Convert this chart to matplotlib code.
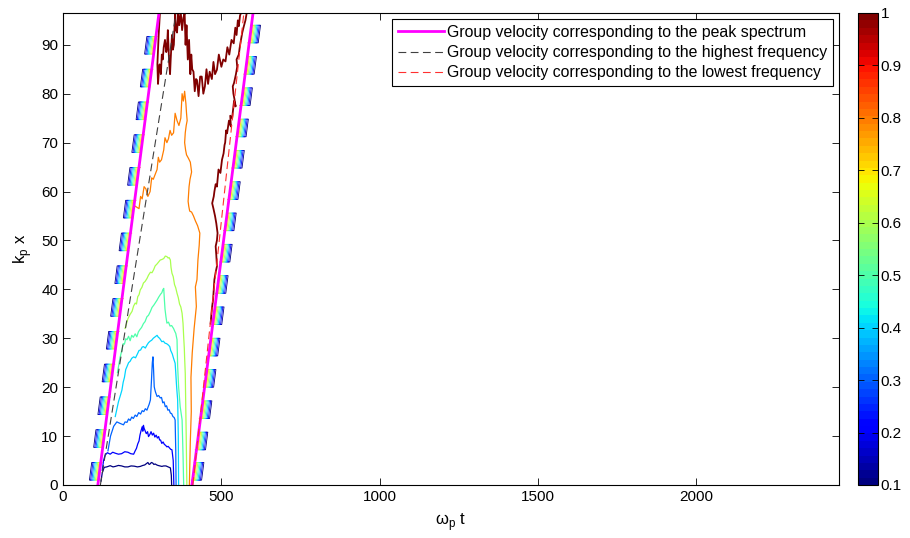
import numpy as np
import matplotlib
matplotlib.use("Agg")
import matplotlib.pyplot as plt
from matplotlib import colors, cm

plt.rcParams['font.family'] = ['Liberation Sans', 'DejaVu Sans']
plt.rcParams['font.size'] = 11

# contour levels and colour scale
levels = [0.1, 0.2, 0.3, 0.4, 0.5, 0.6, 0.7, 0.8, 0.9, 1.0]
cmap = plt.get_cmap('jet', 64)
norm = colors.Normalize(vmin=0.1, vmax=1.0)

# group velocity lines (omega_p t at k_p x = 0 and at the top of the axes)
line_k = [0.0, 96.5]
peak_left_t = [110, 303]
peak_right_t = [407, 600]
high_left_t = [118, 357]
low_right_t = [410, 571]

# iso-lines of the normalised envelope, (omega_p t, k_p x) pairs
c01_t = [120, 124, 130, 138, 149, 158, 165, 175, 185, 195, 205, 215, 225, 235, 244, 252, 258, 264, 268, 272, 275, 279, 283, 287, 291, 296, 300, 306, 312, 318, 325, 332, 339, 342, 343]
c01_k = [0.8, 2.5, 3.6, 3.7, 3.95, 3.7, 3.8, 4.0, 3.9, 3.7, 3.7, 3.9, 3.85, 3.7, 3.8, 4.0, 4.1, 4.4, 4.6, 4.2, 4.3, 4.6, 4.5, 4.2, 4.3, 4.1, 4.0, 3.9, 3.8, 3.9, 3.9, 3.7, 3.5, 2.0, 0.0]

c02_t = [124, 128, 133, 140, 149, 157, 165, 175, 185, 195, 205, 214, 223, 228, 232, 236, 240, 243, 246, 250, 252, 254, 256, 258, 261, 263, 267, 270, 274, 278, 282, 286, 290, 294, 298, 302, 305, 308, 312, 316, 320, 324, 328, 332, 336, 340, 344, 348, 350]
c02_k = [3.0, 5.0, 6.1, 6.6, 6.3, 6.7, 6.5, 6.3, 6.4, 6.8, 6.7, 6.4, 6.3, 7.0, 7.5, 8.4, 9.0, 10.2, 11.0, 11.9, 11.0, 12.2, 11.6, 11.3, 10.8, 10.5, 10.9, 9.9, 10.3, 10.9, 10.2, 10.6, 9.8, 10.2, 9.6, 9.9, 9.2, 9.2, 8.5, 8.8, 8.3, 8.1, 7.8, 7.9, 7.6, 7.3, 7.2, 5.0, 0.0]

c03_t = [142, 150, 160, 170, 180, 191, 196, 202, 207, 212, 217, 222, 228, 233, 239, 245, 250, 255, 260, 265, 269, 272, 276, 279, 282, 284, 286, 288, 290, 292, 297, 302, 307, 311, 315, 319, 323, 327, 331, 335, 339, 343, 347, 351, 354, 356, 357]
c03_k = [7.0, 10.0, 12.0, 12.9, 12.6, 12.3, 12.9, 12.8, 13.5, 13.2, 13.9, 13.6, 14.3, 14.0, 14.8, 14.5, 15.2, 15.0, 15.6, 15.3, 16.0, 16.5, 17.4, 21.0, 25.0, 26.2, 23.5, 20.1, 19.5, 19.0, 18.1, 18.3, 17.8, 17.9, 16.8, 17.0, 16.0, 16.2, 15.3, 15.4, 14.7, 14.6, 14.0, 13.8, 13.3, 7.0, 0.0]

c04_t = [165, 175, 182, 186, 190, 194, 198, 202, 207, 212, 217, 223, 229, 235, 240, 245, 250, 254, 260, 265, 270, 275, 280, 285, 291, 297, 301, 305, 309, 312, 317, 322, 327, 333, 337, 340, 345, 349, 354, 356, 358, 360, 362, 364, 365]
c04_k = [14.0, 17.0, 18.5, 19.4, 21.0, 22.0, 23.6, 24.2, 25.0, 25.3, 25.9, 26.2, 26.0, 26.8, 27.5, 27.6, 28.2, 28.3, 28.0, 28.6, 29.1, 29.4, 29.6, 30.0, 30.3, 30.6, 30.2, 30.0, 29.6, 29.3, 29.4, 29.0, 28.9, 28.6, 28.3, 27.5, 26.8, 25.9, 24.9, 23.0, 20.8, 19.0, 17.4, 10.0, 0.0]

c05_t = [172, 180, 186, 190, 194, 198, 202, 207, 212, 217, 222, 228, 233, 238, 243, 248, 254, 259, 265, 270, 276, 281, 287, 292, 297, 302, 308, 312, 315, 318, 320, 322, 325, 328, 333, 338, 343, 349, 353, 356, 360, 361, 362, 365, 370, 376, 379, 381]
c05_k = [23.0, 26.0, 27.6, 28.9, 28.8, 29.9, 29.7, 30.4, 29.5, 30.6, 30.2, 30.9, 30.3, 31.3, 31.8, 32.2, 33.0, 33.4, 34.4, 34.7, 35.5, 36.3, 36.8, 37.3, 37.8, 38.4, 39.0, 39.3, 39.9, 40.2, 38.0, 36.0, 34.4, 33.1, 33.3, 32.5, 32.6, 32.0, 31.4, 31.0, 29.7, 27.0, 24.2, 20.1, 16.0, 13.3, 6.0, 0.0]

c06_t = [196, 205, 212, 218, 223, 228, 232, 236, 240, 244, 249, 254, 259, 265, 270, 276, 281, 286, 291, 297, 302, 307, 312, 318, 323, 328, 332, 335, 339, 341, 344, 348, 352, 356, 360, 364, 368, 372, 376, 379, 381, 383, 384, 386, 389, 391]
c06_k = [32.0, 34.0, 34.9, 35.5, 36.6, 37.2, 37.0, 38.5, 38.9, 39.9, 40.4, 41.3, 41.6, 42.2, 42.9, 43.5, 43.4, 44.0, 44.8, 45.2, 45.6, 46.0, 46.1, 46.3, 46.8, 46.7, 46.4, 46.5, 46.0, 44.5, 43.3, 42.6, 41.0, 40.3, 39.2, 38.3, 37.0, 36.4, 35.1, 33.0, 30.3, 28.0, 26.0, 22.8, 10.0, 0.0]

c08_t = [228, 240, 245, 250, 256, 262, 268, 275, 280, 285, 291, 297, 301, 305, 311, 318, 322, 328, 333, 338, 343, 349, 354, 360, 366, 372, 376, 380, 384, 388, 390, 392, 389, 386, 384, 387, 390, 396, 402, 406, 401, 398, 395, 397, 400, 406, 412, 418, 425, 432, 430, 426, 423, 418, 421, 414, 408, 404, 405, 402, 400, 399]
c08_k = [57.0, 56.5, 59.0, 58.5, 61.0, 60.5, 59.0, 60.0, 62.8, 62.5, 63.5, 64.5, 67.0, 66.0, 66.5, 68.5, 71.0, 70.0, 70.8, 72.5, 71.5, 72.0, 76.0, 74.5, 73.5, 75.0, 80.0, 78.5, 80.5, 78.0, 76.0, 74.5, 73.5, 72.0, 70.0, 68.5, 67.5, 66.8, 66.0, 64.0, 62.5, 61.0, 58.0, 57.0, 56.0, 55.8, 55.0, 54.0, 53.0, 51.5, 49.0, 46.0, 42.0, 40.5, 36.5, 32.0, 27.0, 22.0, 15.0, 9.0, 3.0, 0.0]

c10a_t = [306, 302, 298, 300, 303, 305, 309, 312, 315, 318, 322, 326, 328, 331, 335, 338, 340, 344, 347, 350, 354, 357, 360, 364, 367, 372, 376, 380, 384, 387, 390, 394, 398, 402, 405, 408, 412, 416, 420, 423, 428, 433, 438, 443, 448, 453, 458, 463, 470, 475, 480, 486, 492, 500, 506, 513, 519, 525, 532, 539, 544, 548, 552, 555, 559, 562]
c10a_k = [96.5, 92.0, 86.0, 82.0, 85.0, 86.0, 84.0, 88.0, 87.0, 89.5, 91.0, 88.5, 89.0, 93.0, 86.5, 84.0, 87.0, 92.0, 89.0, 90.0, 96.5, 93.0, 92.5, 96.5, 94.0, 96.5, 93.0, 95.5, 96.5, 90.0, 94.0, 87.0, 91.0, 84.0, 88.0, 85.0, 84.5, 80.5, 83.0, 82.8, 79.5, 83.5, 83.5, 80.0, 81.5, 85.0, 82.0, 84.5, 83.0, 86.5, 84.0, 84.9, 88.0, 85.5, 87.0, 86.6, 89.5, 88.0, 91.0, 90.3, 93.5, 92.0, 95.0, 93.8, 96.0, 96.5]

c10b_t = [466, 470, 474, 478, 482, 486, 484, 482, 486, 488, 484, 480, 475, 471, 476, 478, 482, 486, 491, 497, 502, 507, 510, 512, 515, 518, 524, 530, 528, 534, 540, 545, 541, 538, 536, 540, 546, 550, 548, 555, 558, 560, 566, 571, 576, 580]
c10b_k = [33.0, 36.0, 38.0, 42.0, 43.5, 44.7, 47.0, 48.8, 50.0, 51.5, 53.5, 55.0, 56.5, 57.6, 59.0, 60.0, 61.5, 61.0, 64.5, 63.8, 66.5, 67.8, 69.5, 70.0, 72.5, 71.9, 74.5, 73.3, 75.5, 75.0, 78.5, 77.4, 79.0, 80.0, 81.5, 82.2, 84.0, 85.5, 87.0, 88.0, 89.5, 90.3, 92.5, 93.8, 95.0, 96.5]

iso_lines = [
    (0.1, c01_t, c01_k), (0.2, c02_t, c02_k), (0.3, c03_t, c03_k),
    (0.4, c04_t, c04_k), (0.5, c05_t, c05_k), (0.6, c06_t, c06_k),
    (0.8, c08_t, c08_k), (1.0, c10a_t, c10a_k), (1.0, c10b_t, c10b_k),
]

# saw-tooth steps where the packet edges cross the time grid
comb_k_left = [1.0, 7.7, 14.4, 21.1, 27.8, 34.5, 41.2, 47.9, 54.6, 61.3, 68.0, 74.7, 81.4, 88.1]
comb_k_right = [1.0, 7.2, 13.6, 20.0, 26.4, 32.8, 39.2, 45.6, 52.0, 58.4, 64.8, 71.2, 77.6, 84.0, 90.4]

fig = plt.figure(figsize=(9.1, 5.38), dpi=100)
ax = fig.add_axes([63 / 910, 53 / 538, 776 / 910, 472 / 538])
cax = fig.add_axes([858 / 910, 53 / 538, 20 / 910, 472 / 538])

for lv, t, k in iso_lines:
    ax.plot(t, k, color=cmap(norm(lv)), lw=1.3 if lv == 1.0 else 0.9)

# each step: one slanted stripe per level, lowest level outermost
comb_levels = levels[:8]
comb_h = 3.6
n_comb = len(comb_levels)
for k0 in comb_k_left:
    kb, kt = k0, k0 + comb_h
    tb = np.interp(kb, line_k, peak_left_t)
    tt = np.interp(kt, line_k, peak_left_t)
    for i, lv in enumerate(comb_levels):
        off = 2 + 3.8 * (n_comb - 1 - i)
        ax.plot([tb - off + 4, tb - off, tt - off, tt - off + 6],
                [kb, kb, kt, kt], color=cmap(norm(lv)), lw=0.6)

for k0 in comb_k_right:
    kb, kt = k0, k0 + comb_h
    tb = np.interp(kb, line_k, peak_right_t)
    tt = np.interp(kt, line_k, peak_right_t)
    for i, lv in enumerate(comb_levels):
        off = 2 + 3.8 * (n_comb - 1 - i)
        ax.plot([tb + off - 6, tb + off, tt + off, tt + off - 4],
                [kb, kb, kt, kt], color=cmap(norm(lv)), lw=0.6)

h1, = ax.plot(peak_left_t, line_k, color='#ff00ff', lw=2,
              label='Group velocity corresponding to the peak spectrum')
ax.plot(peak_right_t, line_k, color='#ff00ff', lw=2)
h2, = ax.plot(high_left_t, line_k, color='0.25', lw=0.8, dashes=(7, 4),
              label='Group velocity corresponding to the highest frequency')
h3, = ax.plot(low_right_t, line_k, color='#ff3030', lw=0.8, dashes=(7, 4),
              label='Group velocity corresponding to the lowest frequency')

ax.set_xlim(0, 2450)
ax.set_ylim(0, 96.5)
ax.set_xticks([0, 500, 1000, 1500, 2000])
ax.set_yticks(range(0, 100, 10))
ax.tick_params(direction='in', length=5, top=True, right=True, width=0.6, labelsize=11)
for s in ax.spines.values():
    s.set_linewidth(0.8)
ax.set_xlabel('ω$_\\mathregular{p}$ t', fontsize=12, labelpad=5)
ax.set_ylabel('k$_\\mathregular{p}$ x', fontsize=12, labelpad=5)

leg = ax.legend(handles=[h1, h2, h3], loc='upper right', fontsize=11.4,
                fancybox=False, framealpha=1, edgecolor='k',
                borderaxespad=0.4, handlelength=2.9, handletextpad=0.2,
                borderpad=0.35, labelspacing=0.33)
leg.get_frame().set_linewidth(0.8)

sm = cm.ScalarMappable(norm=norm, cmap=cmap)
cb = fig.colorbar(sm, cax=cax, ticks=levels)
cb.ax.set_yticklabels(['0.1', '0.2', '0.3', '0.4', '0.5', '0.6', '0.7', '0.8', '0.9', '1'])
cb.ax.tick_params(direction='in', length=4, left=True, right=True, width=0.6, pad=2, labelsize=11)
cb.outline.set_linewidth(0.8)

fig.savefig('out.png', dpi=100)
